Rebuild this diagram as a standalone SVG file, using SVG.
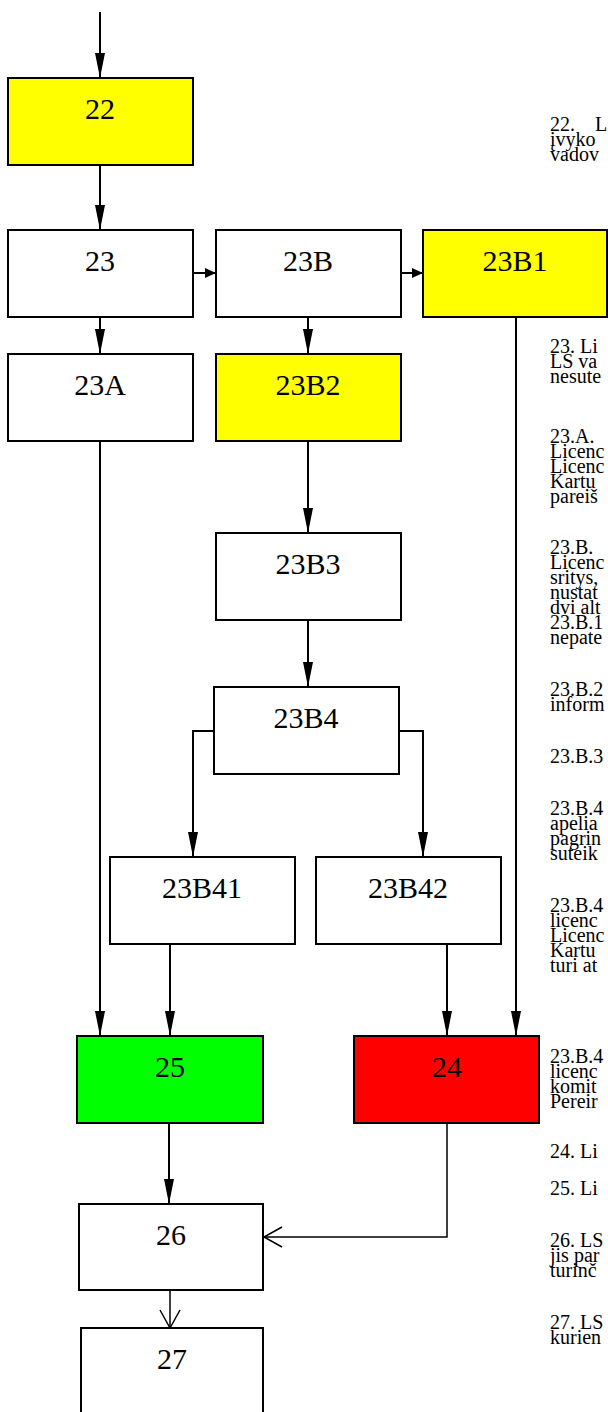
<svg xmlns="http://www.w3.org/2000/svg" width="608" height="1412" viewBox="0 0 608 1412">
<style>
.box{stroke:#000;stroke-width:2;fill:#fff}
.y{fill:#ffff00}.g{fill:#00ff00}.r{fill:#ff0000}
.lbl{font-family:"Liberation Serif",serif;font-size:30px;text-anchor:middle;fill:#000}
.c{fill:none;stroke:#000;stroke-width:2}
.ct{fill:none;stroke:#000;stroke-width:1.5}
.t{font-family:"Liberation Serif",serif;font-size:20px;fill:#000}
</style>
<defs>
<marker id="big" markerUnits="userSpaceOnUse" markerWidth="26" markerHeight="11" refX="25" refY="5" orient="auto"><path d="M0,0 L25,5 L0,10 z" fill="#000"/></marker>
<marker id="sm" markerUnits="userSpaceOnUse" markerWidth="12" markerHeight="11" refX="11" refY="5" orient="auto"><path d="M0,0 L11,5 L0,10 z" fill="#000"/></marker>
<marker id="open" markerUnits="userSpaceOnUse" markerWidth="22" markerHeight="24" refX="19" refY="11" orient="auto"><path d="M1,1 L19,11 L1,21" fill="none" stroke="#000" stroke-width="1.5"/></marker>
</defs>
<g id="connectors">
<path class="c" d="M100,12 V78" marker-end="url(#big)"/>
<path class="c" d="M100,165 V230" marker-end="url(#big)"/>
<path class="c" d="M100,317 V354" marker-end="url(#big)"/>
<path class="c" d="M193,273 H216" marker-end="url(#sm)"/>
<path class="c" d="M401,273 H423" marker-end="url(#sm)"/>
<path class="c" d="M308,317 V354" marker-end="url(#big)"/>
<path class="c" d="M308,441 V533" marker-end="url(#big)"/>
<path class="c" d="M308,620 V687" marker-end="url(#big)"/>
<path class="c" d="M214,731 H193 V857" marker-end="url(#big)"/>
<path class="c" d="M399,731 H423 V857" marker-end="url(#big)"/>
<path class="c" d="M100,441 V1036" marker-end="url(#big)"/>
<path class="c" d="M170,944 V1036" marker-end="url(#big)"/>
<path class="c" d="M447,944 V1036" marker-end="url(#big)"/>
<path class="c" d="M516,317 V1036" marker-end="url(#big)"/>
<path class="c" d="M169,1123 V1204" marker-end="url(#big)"/>
<path class="ct" d="M447,1123 V1237 H264" marker-end="url(#open)"/>
<path class="ct" d="M170,1290 V1328" marker-end="url(#open)"/>
</g>
<g id="n22"><rect class="box y" x="8" y="78" width="185" height="87"/><text class="lbl" x="100" y="119">22</text></g>
<g id="n23"><rect class="box" x="8" y="230" width="185" height="87"/><text class="lbl" x="100" y="271">23</text></g>
<g id="n23B"><rect class="box" x="216" y="230" width="185" height="87"/><text class="lbl" x="308" y="271">23B</text></g>
<g id="n23B1"><rect class="box y" x="423" y="230" width="184" height="87"/><text class="lbl" x="515" y="271">23B1</text></g>
<g id="n23A"><rect class="box" x="8" y="354" width="185" height="87"/><text class="lbl" x="100" y="395">23A</text></g>
<g id="n23B2"><rect class="box y" x="216" y="354" width="185" height="87"/><text class="lbl" x="308" y="395">23B2</text></g>
<g id="n23B3"><rect class="box" x="216" y="533" width="185" height="87"/><text class="lbl" x="308" y="574">23B3</text></g>
<g id="n23B4"><rect class="box" x="214" y="687" width="185" height="87"/><text class="lbl" x="306" y="728">23B4</text></g>
<g id="n23B41"><rect class="box" x="110" y="857" width="185" height="87"/><text class="lbl" x="202" y="898">23B41</text></g>
<g id="n23B42"><rect class="box" x="316" y="857" width="185" height="87"/><text class="lbl" x="408" y="898">23B42</text></g>
<g id="n25"><rect class="box g" x="77" y="1036" width="186" height="87"/><text class="lbl" x="170" y="1077">25</text></g>
<g id="n24"><rect class="box r" x="354" y="1036" width="185" height="87"/><text class="lbl" x="447" y="1077">24</text></g>
<g id="n26"><rect class="box" x="79" y="1204" width="184" height="86"/><text class="lbl" x="171" y="1245">26</text></g>
<g id="n27"><rect class="box" x="81" y="1328" width="182" height="90"/><text class="lbl" x="172" y="1369">27</text></g>
<g id="notes" class="t">
<text x="550" y="131">22.</text><text x="595" y="131">L</text>
<text x="550" y="146">įvyko</text>
<text x="550" y="161">vadov</text>
<text x="550" y="353">23. Li</text>
<text x="550" y="368">LS va</text>
<text x="550" y="383">nesute</text>
<text x="550" y="443">23.A.</text>
<text x="550" y="458">Licenc</text>
<text x="550" y="473">Licenc</text>
<text x="550" y="488">Kartu</text>
<text x="550" y="503">pareiš</text>
<text x="550" y="554">23.B.</text>
<text x="550" y="569">Licenc</text>
<text x="550" y="584">sritys,</text>
<text x="550" y="599">nustat</text>
<text x="550" y="614">dvi alt</text>
<text x="550" y="629">23.B.1</text>
<text x="550" y="644">nepate</text>
<text x="550" y="696">23.B.2</text>
<text x="550" y="711">inform</text>
<text x="550" y="763">23.B.3</text>
<text x="550" y="815">23.B.4</text>
<text x="550" y="830">apelia</text>
<text x="550" y="845">pagrin</text>
<text x="550" y="860">suteik</text>
<text x="550" y="912">23.B.4</text>
<text x="550" y="927">licenc</text>
<text x="550" y="942">Licenc</text>
<text x="550" y="957">Kartu</text>
<text x="550" y="972">turi at</text>
<text x="550" y="1063">23.B.4</text>
<text x="550" y="1078">licenc</text>
<text x="550" y="1093">komit</text>
<text x="550" y="1108">Pereir</text>
<text x="550" y="1158">24. Li</text>
<text x="550" y="1195">25. Li</text>
<text x="550" y="1247">26. LS</text>
<text x="550" y="1262">jis par</text>
<text x="550" y="1277">turinč</text>
<text x="550" y="1329">27. LS</text>
<text x="550" y="1344">kurien</text>
</g>
</svg>
